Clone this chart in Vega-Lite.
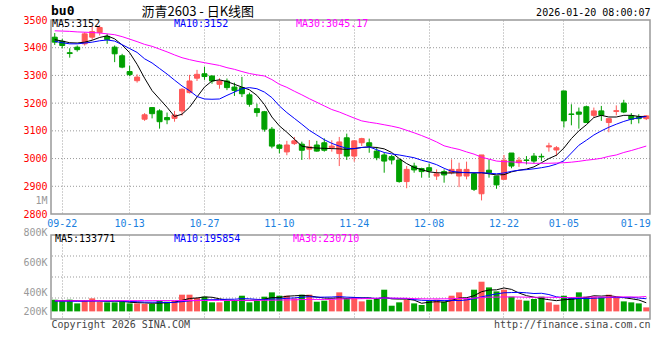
{
  "$schema": "https://vega.github.io/schema/vega-lite/v6.json",
  "background": "white",
  "padding": {"left": 22, "top": 4, "right": 5, "bottom": 5},
  "config": {
    "view": {"stroke": "#999999", "strokeWidth": 1.5},
    "axis": {"ticks": false, "domain": false, "gridColor": "#a0a0a0", "gridDash": [1, 2], "labelFont": "DejaVu Sans Mono", "labelFontSize": 10, "titleFont": "DejaVu Sans Mono", "titleFontSize": 10, "titleFontWeight": "normal"},
    "axisY": {"grid": false, "labelOverlap": false},
    "legend": {"labelFont": "DejaVu Sans Mono", "labelFontSize": 10}
  },
  "datasets": {
    "k": [
      {"date":"09-19","open":3438,"high":3453,"low":3410,"close":3420,"volume":181000,"MA5":3429,"MA10":3423,"MA30":3461,"VMA5":165000,"VMA10":160000,"VMA30":165000},
      {"date":"09-22","open":3423,"high":3432,"low":3398,"close":3408,"volume":166000,"MA5":3424,"MA10":3418,"MA30":3460,"VMA5":168000,"VMA10":158000,"VMA30":165000},
      {"date":"09-23","open":3382,"high":3398,"low":3364,"close":3379,"volume":181000,"MA5":3418,"MA10":3414,"MA30":3459,"VMA5":170000,"VMA10":157000,"VMA30":165000},
      {"date":"09-24","open":3402,"high":3408,"low":3386,"close":3393,"volume":124000,"MA5":3417,"MA10":3414,"MA30":3457,"VMA5":166000,"VMA10":156000,"VMA30":165000},
      {"date":"09-25","open":3414,"high":3456,"low":3408,"close":3450,"volume":166000,"MA5":3420,"MA10":3417,"MA30":3456,"VMA5":164000,"VMA10":158000,"VMA30":166000},
      {"date":"09-26","open":3438,"high":3478,"low":3429,"close":3458,"volume":202000,"MA5":3427,"MA10":3420,"MA30":3455,"VMA5":168000,"VMA10":160000,"VMA30":166000},
      {"date":"09-29","open":3455,"high":3482,"low":3444,"close":3473,"volume":150000,"MA5":3437,"MA10":3425,"MA30":3453,"VMA5":165000,"VMA10":160000,"VMA30":166000},
      {"date":"09-30","open":3441,"high":3450,"low":3414,"close":3429,"volume":140000,"MA5":3443,"MA10":3428,"MA30":3450,"VMA5":156000,"VMA10":159000,"VMA30":166000},
      {"date":"10-09","open":3402,"high":3408,"low":3348,"close":3378,"volume":140000,"MA5":3432,"MA10":3424,"MA30":3447,"VMA5":160000,"VMA10":160000,"VMA30":166000},
      {"date":"10-10","open":3371,"high":3378,"low":3326,"close":3330,"volume":150000,"MA5":3410,"MA10":3411,"MA30":3440,"VMA5":156000,"VMA10":160000,"VMA30":167000},
      {"date":"10-13","open":3314,"high":3335,"low":3297,"close":3303,"volume":124000,"MA5":3382,"MA10":3397,"MA30":3431,"VMA5":141000,"VMA10":154000,"VMA30":167000},
      {"date":"10-14","open":3281,"high":3304,"low":3274,"close":3294,"volume":124000,"MA5":3340,"MA10":3383,"MA30":3422,"VMA5":136000,"VMA10":150000,"VMA30":167000},
      {"date":"10-15","open":3142,"high":3164,"low":3136,"close":3158,"volume":115000,"MA5":3290,"MA10":3360,"MA30":3412,"VMA5":131000,"VMA10":144000,"VMA30":167000},
      {"date":"10-16","open":3184,"high":3186,"low":3145,"close":3162,"volume":115000,"MA5":3245,"MA10":3345,"MA30":3405,"VMA5":126000,"VMA10":143000,"VMA30":167000},
      {"date":"10-17","open":3172,"high":3178,"low":3108,"close":3133,"volume":166000,"MA5":3215,"MA10":3325,"MA30":3395,"VMA5":129000,"VMA10":143000,"VMA30":168000},
      {"date":"10-20","open":3148,"high":3166,"low":3124,"close":3140,"volume":150000,"MA5":3185,"MA10":3305,"MA30":3385,"VMA5":134000,"VMA10":137000,"VMA30":168000},
      {"date":"10-21","open":3145,"high":3172,"low":3133,"close":3157,"volume":166000,"MA5":3152,"MA10":3283,"MA30":3374,"VMA5":142000,"VMA10":139000,"VMA30":168000},
      {"date":"10-22","open":3172,"high":3254,"low":3155,"close":3250,"volume":259000,"MA5":3160,"MA10":3262,"MA30":3364,"VMA5":171000,"VMA10":151000,"VMA30":168000},
      {"date":"10-23","open":3238,"high":3302,"low":3235,"close":3280,"volume":259000,"MA5":3185,"MA10":3245,"MA30":3357,"VMA5":200000,"VMA10":163000,"VMA30":169000},
      {"date":"10-24","open":3290,"high":3320,"low":3280,"close":3304,"volume":208000,"MA5":3222,"MA10":3224,"MA30":3351,"VMA5":208000,"VMA10":169000,"VMA30":169000},
      {"date":"10-27","open":3306,"high":3331,"low":3284,"close":3296,"volume":228000,"MA5":3258,"MA10":3215,"MA30":3346,"VMA5":224000,"VMA10":179000,"VMA30":169000},
      {"date":"10-28","open":3298,"high":3300,"low":3270,"close":3280,"volume":140000,"MA5":3280,"MA10":3214,"MA30":3341,"VMA5":219000,"VMA10":181000,"VMA30":170000},
      {"date":"10-29","open":3268,"high":3290,"low":3252,"close":3280,"volume":140000,"MA5":3284,"MA10":3215,"MA30":3336,"VMA5":195000,"VMA10":183000,"VMA30":170000},
      {"date":"10-30","open":3280,"high":3289,"low":3247,"close":3256,"volume":166000,"MA5":3278,"MA10":3228,"MA30":3328,"VMA5":176000,"VMA10":188000,"VMA30":170000},
      {"date":"10-31","open":3258,"high":3274,"low":3226,"close":3246,"volume":166000,"MA5":3268,"MA10":3240,"MA30":3322,"VMA5":168000,"VMA10":188000,"VMA30":170000},
      {"date":"11-03","open":3256,"high":3295,"low":3222,"close":3234,"volume":243000,"MA5":3258,"MA10":3252,"MA30":3314,"VMA5":171000,"VMA10":198000,"VMA30":171000},
      {"date":"11-04","open":3230,"high":3238,"low":3187,"close":3196,"volume":140000,"MA5":3248,"MA10":3256,"MA30":3307,"VMA5":171000,"VMA10":195000,"VMA30":171000},
      {"date":"11-05","open":3180,"high":3198,"low":3151,"close":3166,"volume":166000,"MA5":3228,"MA10":3252,"MA30":3302,"VMA5":176000,"VMA10":186000,"VMA30":172000},
      {"date":"11-06","open":3169,"high":3172,"low":3097,"close":3106,"volume":228000,"MA5":3195,"MA10":3240,"MA30":3298,"VMA5":189000,"VMA10":183000,"VMA30":172000},
      {"date":"11-07","open":3106,"high":3114,"low":3037,"close":3045,"volume":295000,"MA5":3150,"MA10":3220,"MA30":3285,"VMA5":214000,"VMA10":191000,"VMA30":173000},
      {"date":"11-10","open":3049,"high":3052,"low":3019,"close":3037,"volume":243000,"MA5":3118,"MA10":3190,"MA30":3268,"VMA5":214000,"VMA10":193000,"VMA30":175000},
      {"date":"11-11","open":3024,"high":3064,"low":3012,"close":3049,"volume":243000,"MA5":3095,"MA10":3166,"MA30":3257,"VMA5":235000,"VMA10":203000,"VMA30":178000},
      {"date":"11-12","open":3054,"high":3078,"low":3049,"close":3064,"volume":202000,"MA5":3070,"MA10":3145,"MA30":3243,"VMA5":242000,"VMA10":209000,"VMA30":179000},
      {"date":"11-13","open":3052,"high":3061,"low":2995,"close":3030,"volume":259000,"MA5":3045,"MA10":3124,"MA30":3230,"VMA5":248000,"VMA10":219000,"VMA30":183000},
      {"date":"11-14","open":3034,"high":3067,"low":2997,"close":3042,"volume":259000,"MA5":3040,"MA10":3102,"MA30":3216,"VMA5":241000,"VMA10":228000,"VMA30":186000},
      {"date":"11-17","open":3049,"high":3064,"low":3025,"close":3027,"volume":150000,"MA5":3038,"MA10":3085,"MA30":3203,"VMA5":223000,"VMA10":219000,"VMA30":185000},
      {"date":"11-18","open":3057,"high":3073,"low":3025,"close":3030,"volume":166000,"MA5":3037,"MA10":3068,"MA30":3190,"VMA5":207000,"VMA10":221000,"VMA30":185000},
      {"date":"11-19","open":3039,"high":3066,"low":3025,"close":3045,"volume":181000,"MA5":3036,"MA10":3055,"MA30":3177,"VMA5":203000,"VMA10":223000,"VMA30":186000},
      {"date":"11-20","open":3018,"high":3078,"low":2973,"close":3060,"volume":295000,"MA5":3035,"MA10":3045,"MA30":3168,"VMA5":210000,"VMA10":229000,"VMA30":192000},
      {"date":"11-21","open":3075,"high":3090,"low":2995,"close":3009,"volume":208000,"MA5":3033,"MA10":3037,"MA30":3157,"VMA5":200000,"VMA10":221000,"VMA30":194000},
      {"date":"11-24","open":3009,"high":3066,"low":2989,"close":3064,"volume":208000,"MA5":3036,"MA10":3036,"MA30":3146,"VMA5":212000,"VMA10":217000,"VMA30":196000},
      {"date":"11-25","open":3057,"high":3075,"low":3045,"close":3072,"volume":155000,"MA5":3040,"MA10":3040,"MA30":3136,"VMA5":209000,"VMA10":208000,"VMA30":197000},
      {"date":"11-26","open":3057,"high":3072,"low":3021,"close":3045,"volume":181000,"MA5":3042,"MA10":3042,"MA30":3131,"VMA5":209000,"VMA10":206000,"VMA30":200000},
      {"date":"11-27","open":3027,"high":3042,"low":2994,"close":3003,"volume":208000,"MA5":3040,"MA10":3032,"MA30":3127,"VMA5":192000,"VMA10":201000,"VMA30":203000},
      {"date":"11-28","open":3013,"high":3021,"low":2949,"close":2991,"volume":336000,"MA5":3035,"MA10":3022,"MA30":3122,"VMA5":218000,"VMA10":209000,"VMA30":208000},
      {"date":"12-01","open":3007,"high":3013,"low":2979,"close":2995,"volume":88000,"MA5":3022,"MA10":3017,"MA30":3117,"VMA5":194000,"VMA10":203000,"VMA30":206000},
      {"date":"12-02","open":2995,"high":2997,"low":2913,"close":2917,"volume":140000,"MA5":3000,"MA10":3013,"MA30":3111,"VMA5":191000,"VMA10":200000,"VMA30":205000},
      {"date":"12-03","open":2917,"high":2973,"low":2893,"close":2961,"volume":181000,"MA5":2982,"MA10":3008,"MA30":3102,"VMA5":191000,"VMA10":200000,"VMA30":203000},
      {"date":"12-04","open":2973,"high":2985,"low":2949,"close":2959,"volume":124000,"MA5":2968,"MA10":3003,"MA30":3093,"VMA5":174000,"VMA10":183000,"VMA30":198000},
      {"date":"12-05","open":2964,"high":2967,"low":2931,"close":2953,"volume":99000,"MA5":2960,"MA10":2994,"MA30":3083,"VMA5":126000,"VMA10":172000,"VMA30":195000},
      {"date":"12-08","open":2967,"high":2982,"low":2931,"close":2955,"volume":166000,"MA5":2952,"MA10":2987,"MA30":3072,"VMA5":142000,"VMA10":168000,"VMA30":193000},
      {"date":"12-09","open":2937,"high":2961,"low":2923,"close":2945,"volume":181000,"MA5":2949,"MA10":2978,"MA30":3060,"VMA5":150000,"VMA10":170000,"VMA30":194000},
      {"date":"12-10","open":2953,"high":2961,"low":2913,"close":2941,"volume":150000,"MA5":2948,"MA10":2965,"MA30":3046,"VMA5":144000,"VMA10":167000,"VMA30":194000},
      {"date":"12-11","open":2949,"high":2997,"low":2943,"close":2961,"volume":243000,"MA5":2948,"MA10":2954,"MA30":3039,"VMA5":168000,"VMA10":171000,"VMA30":197000},
      {"date":"12-12","open":2937,"high":2985,"low":2897,"close":2961,"volume":295000,"MA5":2949,"MA10":2951,"MA30":3033,"VMA5":207000,"VMA10":167000,"VMA30":201000},
      {"date":"12-15","open":2937,"high":2989,"low":2925,"close":2961,"volume":192000,"MA5":2950,"MA10":2949,"MA30":3024,"VMA5":212000,"VMA10":177000,"VMA30":199000},
      {"date":"12-16","open":2945,"high":2949,"low":2883,"close":2889,"volume":336000,"MA5":2948,"MA10":2949,"MA30":3016,"VMA5":243000,"VMA10":197000,"VMA30":206000},
      {"date":"12-17","open":2873,"high":3013,"low":2849,"close":3013,"volume":460000,"MA5":2949,"MA10":2949,"MA30":3005,"VMA5":305000,"VMA10":225000,"VMA30":216000},
      {"date":"12-18","open":2958,"high":2997,"low":2931,"close":2949,"volume":372000,"MA5":2945,"MA10":2947,"MA30":2998,"VMA5":331000,"VMA10":249000,"VMA30":221000},
      {"date":"12-19","open":2937,"high":2937,"low":2891,"close":2905,"volume":310000,"MA5":2941,"MA10":2945,"MA30":2991,"VMA5":334000,"VMA10":271000,"VMA30":221000},
      {"date":"12-22","open":2925,"high":3013,"low":2925,"close":2994,"volume":336000,"MA5":2942,"MA10":2948,"MA30":2989,"VMA5":363000,"VMA10":288000,"VMA30":224000},
      {"date":"12-23","open":3020,"high":3020,"low":2965,"close":2973,"volume":228000,"MA5":2952,"MA10":2954,"MA30":2988,"VMA5":341000,"VMA10":292000,"VMA30":224000},
      {"date":"12-24","open":2985,"high":3006,"low":2970,"close":2994,"volume":181000,"MA5":2958,"MA10":2958,"MA30":2986,"VMA5":285000,"VMA10":295000,"VMA30":223000},
      {"date":"12-25","open":2995,"high":3009,"low":2979,"close":2993,"volume":166000,"MA5":2962,"MA10":2960,"MA30":2984,"VMA5":244000,"VMA10":288000,"VMA30":220000},
      {"date":"12-26","open":3009,"high":3020,"low":2982,"close":2991,"volume":192000,"MA5":2970,"MA10":2963,"MA30":2983,"VMA5":221000,"VMA10":277000,"VMA30":218000},
      {"date":"12-29","open":3008,"high":3018,"low":2991,"close":3006,"volume":228000,"MA5":2985,"MA10":2967,"MA30":2983,"VMA5":199000,"VMA10":281000,"VMA30":220000},
      {"date":"12-30","open":3042,"high":3057,"low":3025,"close":3046,"volume":140000,"MA5":3000,"MA10":2972,"MA30":2983,"VMA5":181000,"VMA10":261000,"VMA30":219000},
      {"date":"12-31","open":3031,"high":3045,"low":3009,"close":3039,"volume":104000,"MA5":3012,"MA10":2980,"MA30":2984,"VMA5":166000,"VMA10":226000,"VMA30":217000},
      {"date":"01-05","open":3244,"high":3244,"low":3112,"close":3136,"volume":243000,"MA5":3038,"MA10":2992,"MA30":2985,"VMA5":181000,"VMA10":213000,"VMA30":215000},
      {"date":"01-06","open":3161,"high":3196,"low":3120,"close":3159,"volume":217000,"MA5":3072,"MA10":3020,"MA30":2987,"VMA5":186000,"VMA10":204000,"VMA30":215000},
      {"date":"01-07","open":3168,"high":3184,"low":3108,"close":3160,"volume":295000,"MA5":3100,"MA10":3048,"MA30":2990,"VMA5":200000,"VMA10":199000,"VMA30":218000},
      {"date":"01-08","open":3187,"high":3191,"low":3130,"close":3130,"volume":228000,"MA5":3122,"MA10":3066,"MA30":2994,"VMA5":217000,"VMA10":199000,"VMA30":221000},
      {"date":"01-09","open":3156,"high":3184,"low":3148,"close":3172,"volume":228000,"MA5":3148,"MA10":3085,"MA30":2997,"VMA5":242000,"VMA10":204000,"VMA30":222000},
      {"date":"01-12","open":3172,"high":3190,"low":3136,"close":3156,"volume":217000,"MA5":3156,"MA10":3100,"MA30":3001,"VMA5":237000,"VMA10":209000,"VMA30":223000},
      {"date":"01-13","open":3130,"high":3144,"low":3095,"close":3144,"volume":259000,"MA5":3150,"MA10":3113,"MA30":3008,"VMA5":245000,"VMA10":216000,"VMA30":220000},
      {"date":"01-14","open":3170,"high":3192,"low":3156,"close":3173,"volume":208000,"MA5":3150,"MA10":3124,"MA30":3013,"VMA5":228000,"VMA10":214000,"VMA30":224000},
      {"date":"01-15","open":3200,"high":3212,"low":3164,"close":3168,"volume":155000,"MA5":3156,"MA10":3134,"MA30":3022,"VMA5":213000,"VMA10":215000,"VMA30":225000},
      {"date":"01-16","open":3154,"high":3164,"low":3124,"close":3142,"volume":140000,"MA5":3156,"MA10":3142,"MA30":3029,"VMA5":196000,"VMA10":219000,"VMA30":223000},
      {"date":"01-19","open":3151,"high":3160,"low":3127,"close":3144,"volume":124000,"MA5":3152,"MA10":3147,"MA30":3037,"VMA5":177000,"VMA10":207000,"VMA30":223000},
      {"date":"01-20","open":3144,"high":3156,"low":3139,"close":3154,"volume":62000,"MA5":3152,"MA10":3152,"MA30":3045.17,"VMA5":133771,"VMA10":195854,"VMA30":230710}
    ],
    "priceGrid": [{"level": 2900}, {"level": 3000}, {"level": 3100}, {"level": 3200}, {"level": 3300}, {"level": 3400}],
    "volGrid": [{"level": 207500}, {"level": 533000}, {"level": 858500}]
  },
  "bounds": "flush",
  "spacing": 21,
  "resolve": {"scale": {"color": "independent"}, "legend": {"color": "independent"}},
  "vconcat": [
    {
      "width": 599,
      "height": 194,
      "layer": [
        {
          "data": {"name": "priceGrid"},
          "mark": {"type": "rule", "color": "#999999", "strokeWidth": 1, "strokeDash": [1, 2]},
          "encoding": {
            "y": {
              "field": "level", "type": "quantitative",
              "scale": {"domain": [2800, 3500], "zero": false, "nice": false},
              "axis": {
                "values": [2800, 2847, 2900, 3000, 3100, 3200, 3300, 3400, 3500],
                "format": "d", "labelOverlap": false, "grid": false,
                "labelExpr": "datum.value == 2847 ? '1M' : datum.label",
                "labelColor": {"condition": {"test": "datum.value == 2847", "value": "#999999"}, "value": "#ff0000"},
                "labelPadding": 4,
                "title": "沥青2603 - 日K线图", "titleX": 90, "titleY": -9, "titleAngle": 0, "titleAlign": "left", "titleBaseline": "middle",
                "titleFont": "Noto Sans CJK SC", "titleFontSize": 13, "titleColor": "#000000"
              }
            }
          }
        },
        {
          "data": {"name": "k"},
          "encoding": {
            "x": {
              "field": "date", "type": "ordinal", "sort": null,
              "scale": {"paddingInner": 0, "paddingOuter": 0},
              "axis": {
                "values": ["09-22","10-13","10-27","11-10","11-24","12-08","12-22","01-05","01-19"],
                "bandPosition": 0.5, "labelAngle": 0, "labelColor": "#1a7fe0", "labelPadding": 4, "labelBaseline": "top",
                "labelOffset": {"condition": {"test": "datum.value === '01-19'", "value": -3}, "value": 0},
                "grid": true,
                "gridOpacity": {"condition": {"test": "datum.value === '01-19'", "value": 0}, "value": 1},
                "title": "2026-01-20 08:00:07", "titleX": 599, "titleY": -202, "titleAlign": "right", "titleBaseline": "middle", "titleColor": "#000000", "titleFontSize": 10
              }
            }
          },
          "layer": [
            {
              "mark": {"type": "rule", "strokeWidth": 1},
              "encoding": {
                "y": {
                  "field": "low", "type": "quantitative",
                  "axis": {
                    "values": [2800, 2847, 2900, 3000, 3100, 3200, 3300, 3400, 3500],
                    "format": "d", "labelOverlap": false, "grid": false,
                    "labelExpr": "datum.value == 2847 ? '1M' : datum.label",
                    "labelColor": {"condition": {"test": "datum.value == 2847", "value": "#999999"}, "value": "#ff0000"},
                    "labelPadding": 4,
                    "title": "沥青2603 - 日K线图", "titleX": 90, "titleY": -9, "titleAngle": 0, "titleAlign": "left", "titleBaseline": "middle",
                    "titleFont": "Noto Sans CJK SC", "titleFontSize": 13, "titleColor": "#000000"
                  }
                },
                "y2": {"field": "high"},
                "color": {"condition": {"test": "datum.close >= datum.open", "value": "#ff5858"}, "value": "#00a000"}
              }
            },
            {
              "mark": {"type": "bar", "width": 5, "strokeWidth": 1},
              "encoding": {
                "y": {
                  "field": "open", "type": "quantitative",
                  "axis": {
                    "values": [2800, 2847, 2900, 3000, 3100, 3200, 3300, 3400, 3500],
                    "format": "d", "labelOverlap": false, "grid": false,
                    "labelExpr": "datum.value == 2847 ? '1M' : datum.label",
                    "labelColor": {"condition": {"test": "datum.value == 2847", "value": "#999999"}, "value": "#ff0000"},
                    "labelPadding": 4,
                    "title": "沥青2603 - 日K线图", "titleX": 90, "titleY": -9, "titleAngle": 0, "titleAlign": "left", "titleBaseline": "middle",
                    "titleFont": "Noto Sans CJK SC", "titleFontSize": 13, "titleColor": "#000000"
                  }
                },
                "y2": {"field": "close"},
                "color": {"condition": {"test": "datum.close >= datum.open", "value": "#ff5858"}, "value": "#00a000"},
                "stroke": {"condition": {"test": "datum.close >= datum.open", "value": "#ff5858"}, "value": "#00a000"}
              }
            },
            {
              "transform": [{"fold": ["MA5", "MA10", "MA30"], "as": ["series", "val"]}],
              "mark": {"type": "line", "strokeWidth": 1},
              "encoding": {
                "y": {
                  "field": "val", "type": "quantitative",
                  "axis": {
                    "values": [2800, 2847, 2900, 3000, 3100, 3200, 3300, 3400, 3500],
                    "format": "d", "labelOverlap": false, "grid": false,
                    "labelExpr": "datum.value == 2847 ? '1M' : datum.label",
                    "labelColor": {"condition": {"test": "datum.value == 2847", "value": "#999999"}, "value": "#ff0000"},
                    "labelPadding": 4,
                    "title": "沥青2603 - 日K线图", "titleX": 90, "titleY": -9, "titleAngle": 0, "titleAlign": "left", "titleBaseline": "middle",
                    "titleFont": "Noto Sans CJK SC", "titleFontSize": 13, "titleColor": "#000000"
                  }
                },
                "color": {
                  "field": "series", "type": "nominal",
                  "scale": {"domain": ["MA5", "MA10", "MA30"], "range": ["#000000", "#0000ff", "#ff00ff"]},
                  "legend": {
                    "orient": "none", "legendX": 0, "legendY": -15, "direction": "horizontal", "columns": 3, "gridAlign": "all", "columnPadding": 48,
                    "padding": 0, "rowPadding": 0,
                    "title": "bu0", "titleFont": "DejaVu Sans Mono", "titleFontWeight": "bold", "titleFontSize": 13, "titleColor": "#000000", "titlePadding": 1, "titleOrient": "top", "titleAnchor": "start",
                    "symbolSize": 0, "symbolStrokeWidth": 0, "symbolOpacity": 0, "labelOffset": -9,
                    "labelFont": "DejaVu Sans Mono", "labelFontSize": 10,
                    "labelExpr": "datum.value === 'MA5' ? 'MA5:3152' : datum.value === 'MA10' ? 'MA10:3152' : 'MA30:3045.17'",
                    "encode": {"labels": {"update": {"fill": {"signal": "datum.value === 'MA5' ? '#000000' : datum.value === 'MA10' ? '#0000ff' : '#ff00ff'"}}}}
                  }
                }
              }
            }
          ]
        }
      ]
    },
    {
      "width": 599,
      "height": 84,
      "layer": [
        {
          "data": {"name": "volGrid"},
          "mark": {"type": "rule", "color": "#999999", "strokeWidth": 1, "strokeDash": [1, 2]},
          "encoding": {
            "y": {
              "field": "level", "type": "quantitative",
              "scale": {"domain": [-118000, 1184000], "zero": false, "nice": false},
              "axis": {
                "values": [-45000, 254000, 704000, 1184000],
                "labelOverlap": false, "grid": false,
                "labelExpr": "datum.value == 1184000 ? '800K' : datum.value == 704000 ? '600K' : datum.value == 254000 ? '400K' : '200K'",
                "labelBaseline": "alphabetic", "labelColor": "#999999", "labelPadding": 4,
                "title": "http://finance.sina.com.cn", "titleX": 599, "titleY": 89, "titleAngle": 0, "titleAlign": "right", "titleBaseline": "middle", "titleColor": "#444444", "titleFontSize": 10
              }
            }
          }
        },
        {
          "data": {"name": "k"},
          "encoding": {
            "x": {
              "field": "date", "type": "ordinal", "sort": null,
              "scale": {"paddingInner": 0, "paddingOuter": 0},
              "axis": {
                "values": ["09-22","10-13","10-27","11-10","11-24","12-08","12-22","01-05","01-19"],
                "bandPosition": 0.5, "labels": false, "grid": true,
                "gridOpacity": {"condition": {"test": "datum.value === '01-19'", "value": 0}, "value": 1},
                "title": "Copyright 2026 SINA.COM", "titleX": 0, "titleY": 5, "titleAlign": "left", "titleBaseline": "middle", "titleColor": "#444444", "titleFontSize": 10
              }
            }
          },
          "layer": [
            {
              "mark": {"type": "bar", "width": 6},
              "encoding": {
                "y": {
                  "field": "volume", "type": "quantitative",
                  "axis": {
                    "values": [-45000, 254000, 704000, 1184000],
                    "labelOverlap": false, "grid": false,
                    "labelExpr": "datum.value == 1184000 ? '800K' : datum.value == 704000 ? '600K' : datum.value == 254000 ? '400K' : '200K'",
                    "labelBaseline": "alphabetic", "labelColor": "#999999", "labelPadding": 4,
                    "title": "http://finance.sina.com.cn", "titleX": 599, "titleY": 89, "titleAngle": 0, "titleAlign": "right", "titleBaseline": "middle", "titleColor": "#444444", "titleFontSize": 10
                  }
                },
                "color": {"condition": {"test": "datum.close >= datum.open", "value": "#ff5858"}, "value": "#00a000"}
              }
            },
            {
              "transform": [{"fold": ["VMA5", "VMA10", "VMA30"], "as": ["series", "val"]}],
              "mark": {"type": "line", "strokeWidth": 1},
              "encoding": {
                "y": {
                  "field": "val", "type": "quantitative",
                  "axis": {
                    "values": [-45000, 254000, 704000, 1184000],
                    "labelOverlap": false, "grid": false,
                    "labelExpr": "datum.value == 1184000 ? '800K' : datum.value == 704000 ? '600K' : datum.value == 254000 ? '400K' : '200K'",
                    "labelBaseline": "alphabetic", "labelColor": "#999999", "labelPadding": 4,
                    "title": "http://finance.sina.com.cn", "titleX": 599, "titleY": 89, "titleAngle": 0, "titleAlign": "right", "titleBaseline": "middle", "titleColor": "#444444", "titleFontSize": 10
                  }
                },
                "color": {
                  "field": "series", "type": "nominal",
                  "scale": {"domain": ["VMA5", "VMA10", "VMA30"], "range": ["#000000", "#0000ff", "#ff00ff"]},
                  "legend": {
                    "orient": "none", "legendX": 4, "legendY": -1, "direction": "horizontal", "columns": 3, "gridAlign": "all", "columnPadding": 52,
                    "padding": 0, "title": null,
                    "symbolSize": 0, "symbolStrokeWidth": 0, "symbolOpacity": 0, "labelOffset": -10,
                    "labelFont": "DejaVu Sans Mono", "labelFontSize": 10,
                    "labelExpr": "datum.value === 'VMA5' ? 'MA5:133771' : datum.value === 'VMA10' ? 'MA10:195854' : 'MA30:230710'",
                    "encode": {"labels": {"update": {"fill": {"signal": "datum.value === 'VMA5' ? '#000000' : datum.value === 'VMA10' ? '#0000ff' : '#ff00ff'"}}}}
                  }
                }
              }
            }
          ]
        }
      ]
    }
  ]
}
